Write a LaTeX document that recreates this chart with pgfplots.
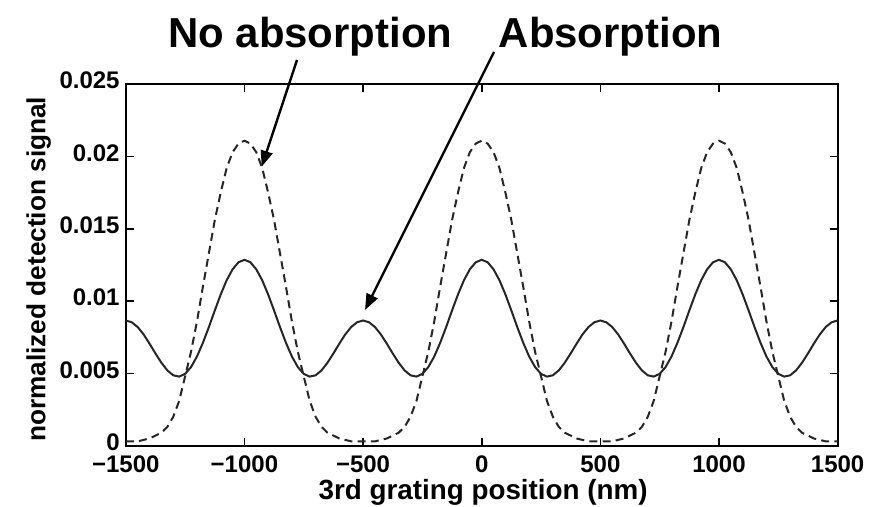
\documentclass[border=0pt]{standalone}
\usepackage{pgfplots}
\pgfplotsset{compat=1.18}
\usepackage{pgfplotstable}
\usepackage{fontspec}
\setmainfont{Liberation Sans}
\usetikzlibrary{arrows.meta}
\pgfplotstableread{
x D S
-1500 0.0003 0.00866
-1475 0.0003 0.00854
-1450 0.0003 0.00821
-1425 0.0004 0.00770
-1400 0.0005 0.00706
-1375 0.0007 0.00638
-1350 0.0009 0.00574
-1325 0.0013 0.00521
-1300 0.0020 0.00487
-1275 0.0031 0.00478
-1250 0.0048 0.00497
-1225 0.0065 0.00544
-1200 0.0086 0.00617
-1175 0.0110 0.00712
-1150 0.0133 0.00820
-1125 0.0156 0.00935
-1100 0.0175 0.01046
-1075 0.0192 0.01144
-1050 0.0203 0.01220
-1025 0.0209 0.01269
-1000 0.0211 0.01286
-975 0.0209 0.01269
-950 0.0203 0.01220
-925 0.0192 0.01144
-900 0.0175 0.01046
-875 0.0156 0.00935
-850 0.0133 0.00820
-825 0.0110 0.00712
-800 0.0086 0.00617
-775 0.0065 0.00544
-750 0.0048 0.00497
-725 0.0031 0.00478
-700 0.0020 0.00487
-675 0.0013 0.00521
-650 0.0009 0.00574
-625 0.0007 0.00638
-600 0.0005 0.00706
-575 0.0004 0.00770
-550 0.0003 0.00821
-525 0.0003 0.00854
-500 0.0003 0.00866
-475 0.0003 0.00854
-450 0.0003 0.00821
-425 0.0004 0.00770
-400 0.0005 0.00706
-375 0.0007 0.00638
-350 0.0009 0.00574
-325 0.0013 0.00521
-300 0.0020 0.00487
-275 0.0031 0.00478
-250 0.0048 0.00497
-225 0.0065 0.00544
-200 0.0086 0.00617
-175 0.0110 0.00712
-150 0.0133 0.00820
-125 0.0156 0.00935
-100 0.0175 0.01046
-75 0.0192 0.01144
-50 0.0203 0.01220
-25 0.0209 0.01269
0 0.0211 0.01286
25 0.0209 0.01269
50 0.0203 0.01220
75 0.0192 0.01144
100 0.0175 0.01046
125 0.0156 0.00935
150 0.0133 0.00820
175 0.0110 0.00712
200 0.0086 0.00617
225 0.0065 0.00544
250 0.0048 0.00497
275 0.0031 0.00478
300 0.0020 0.00487
325 0.0013 0.00521
350 0.0009 0.00574
375 0.0007 0.00638
400 0.0005 0.00706
425 0.0004 0.00770
450 0.0003 0.00821
475 0.0003 0.00854
500 0.0003 0.00866
525 0.0003 0.00854
550 0.0003 0.00821
575 0.0004 0.00770
600 0.0005 0.00706
625 0.0007 0.00638
650 0.0009 0.00574
675 0.0013 0.00521
700 0.0020 0.00487
725 0.0031 0.00478
750 0.0048 0.00497
775 0.0065 0.00544
800 0.0086 0.00617
825 0.0110 0.00712
850 0.0133 0.00820
875 0.0156 0.00935
900 0.0175 0.01046
925 0.0192 0.01144
950 0.0203 0.01220
975 0.0209 0.01269
1000 0.0211 0.01286
1025 0.0209 0.01269
1050 0.0203 0.01220
1075 0.0192 0.01144
1100 0.0175 0.01046
1125 0.0156 0.00935
1150 0.0133 0.00820
1175 0.0110 0.00712
1200 0.0086 0.00617
1225 0.0065 0.00544
1250 0.0048 0.00497
1275 0.0031 0.00478
1300 0.0020 0.00487
1325 0.0013 0.00521
1350 0.0009 0.00574
1375 0.0007 0.00638
1400 0.0005 0.00706
1425 0.0004 0.00770
1450 0.0003 0.00821
1475 0.0003 0.00854
1500 0.0003 0.00866
}\datatable
\begin{document}
\begin{tikzpicture}
\useasboundingbox (-62.9pt,-30.65pt) rectangle (380.1pt,222.85pt);
\begin{axis}[
  scale only axis,
  width=355.9pt, height=180.7pt,
  xmin=-1500, xmax=1500, ymin=0, ymax=0.025,
  axis line style={line width=1pt, black},
  tick style={line width=0.8pt, black},
  major tick length=4pt,
  tick align=inside,
  xtick={-1500,-1000,-500,0,500,1000,1500},
  xticklabels={−1500,−1000,−500,0,500,1000,1500},
  ytick={0,0.005,0.01,0.015,0.02,0.025},
  yticklabels={0,0.005,0.01,0.015,0.02,0.025},
  scaled y ticks=false,
  ticklabel style={font=\bfseries\fontsize{12}{14}\selectfont},
  xticklabel style={inner sep=0pt, anchor=north, yshift=-4.6pt},
  yticklabel style={inner sep=0pt, anchor=east, xshift=-2.9pt, yshift=1.8pt},
  xlabel={3rd grating position (nm)},
  ylabel={normalized detection signal},
  xlabel style={font=\bfseries\fontsize{13.9}{16}\selectfont, at={(axis description cs:0.502,-0.1485)}, anchor=base, inner sep=0pt},
  ylabel style={font=\bfseries\fontsize{13.1}{15}\selectfont, at={(axis description cs:-0.113,0.488)}, anchor=base, inner sep=0pt},
  clip=false,
]
\addplot[line width=1pt, color=black!85, dash pattern=on 4pt off 2.6pt] table[x=x, y=D] {\datatable};
\addplot[line width=1pt, color=black!85] table[x=x, y=S] {\datatable};
\end{axis}
\node[anchor=base, inner sep=0pt, font=\bfseries\fontsize{20.95}{24}\selectfont] at (92.25pt,198.95pt) {No absorption};
\node[anchor=base, inner sep=0pt, font=\bfseries\fontsize{20.95}{24}\selectfont] at (242.35pt,198.95pt) {Absorption};
\draw[line width=1.2pt, -{Triangle[length=8pt,width=6pt]}] (85.6pt,192.85pt) -- (67.95pt,139.5pt);
\draw[line width=1.2pt, -{Triangle[length=8pt,width=6pt]}] (184.1pt,196.85pt) -- (119.6pt,67.85pt);
\end{tikzpicture}
\end{document}
